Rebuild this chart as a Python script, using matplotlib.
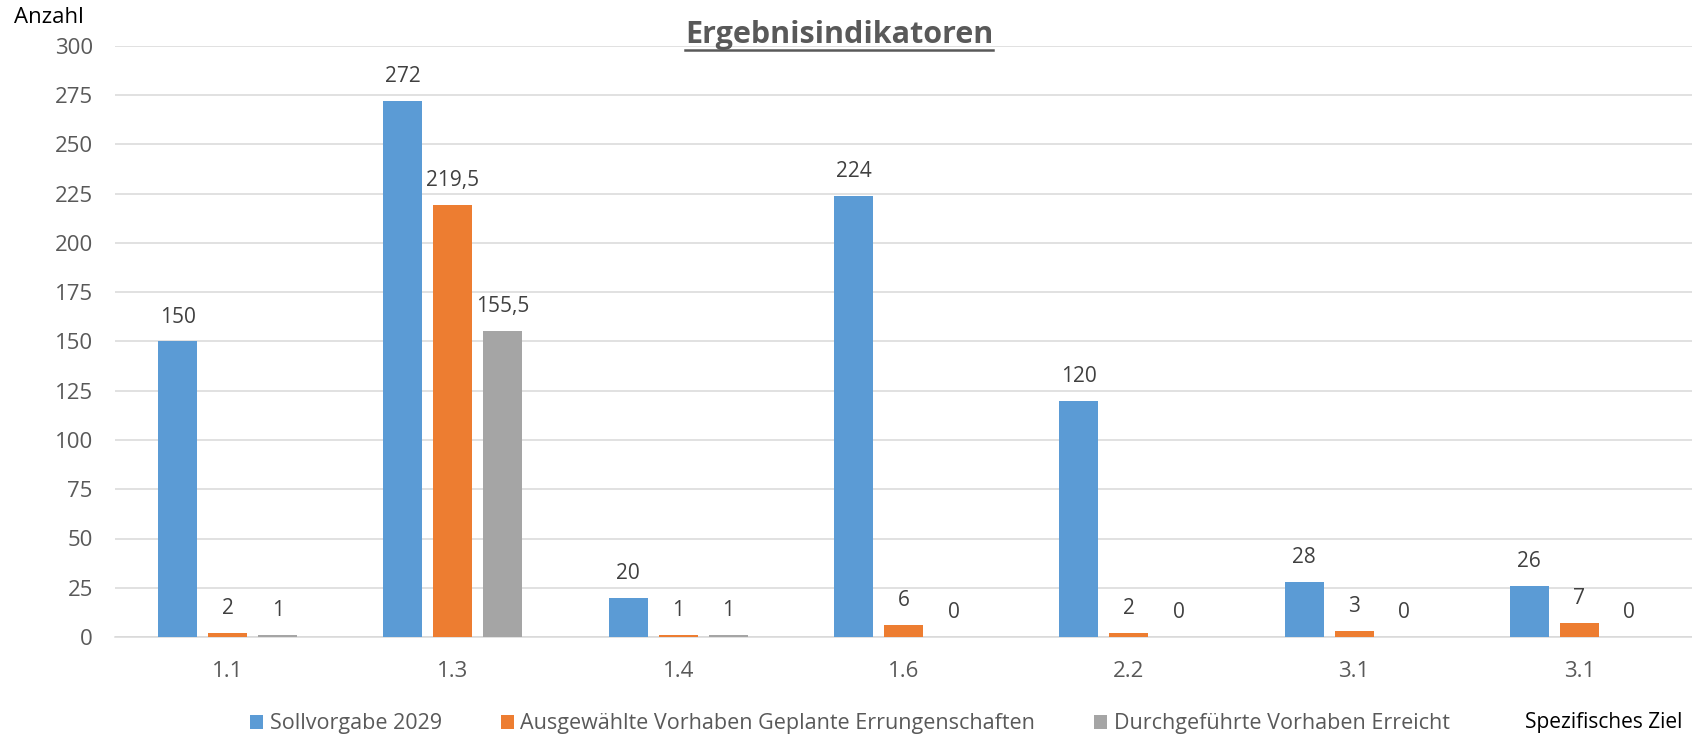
import numpy as np
import matplotlib.pyplot as plt
from matplotlib.lines import Line2D
from matplotlib.patches import Patch

# Data
categories = ["1.1", "1.3", "1.4", "1.6", "2.2", "3.1", "3.1"]
sollvorgabe = [150, 272, 20, 224, 120, 28, 26]
ausgewaehlt = [2, 219.5, 1, 6, 2, 3, 7]
durchgefuehrt = [1, 155.5, 1, 0, 0, 0, 0]
series_names = ["Sollvorgabe 2029",
                "Ausgewählte Vorhaben Geplante Errungenschaften",
                "Durchgeführte Vorhaben Erreicht"]
yticks = list(range(0, 301, 25))

colors = ["#5B9BD5", "#ED7D31", "#A5A5A5"]
grey_text = "#595959"
label_text = "#404040"

plt.rcParams['font.family'] = ['Open Sans', 'DejaVu Sans']

W, H = 1692, 734
fig = plt.figure(figsize=(W / 100, H / 100), dpi=100)
ax = fig.add_axes([115 / W, 1 - 637 / H, (W - 115) / W, (637 - 46) / H])

x = np.arange(len(categories))
width = 0.173
step = 0.222

all_series = [sollvorgabe, ausgewaehlt, durchgefuehrt]
for i, vals in enumerate(all_series):
    bars = ax.bar(x + (i - 1) * step, vals, width, color=colors[i], zorder=3)
    ax.bar_label(bars, labels=[f"{v:g}".replace('.', ',') for v in vals],
                 padding=10, fontsize=15, color=label_text)

ax.set_xlim(-0.5, len(categories) - 0.5)
ax.set_ylim(0, 300)
ax.set_yticks(yticks)
ax.set_xticks(x)
ax.set_xticklabels(categories)
ax.tick_params(axis='y', length=0, pad=16, labelsize=16, labelcolor=grey_text)
ax.tick_params(axis='x', length=0, pad=17, labelsize=16, labelcolor=grey_text)
ax.grid(axis='y', color='#D9D9D9', linewidth=1.1, zorder=0)
for s in ['top', 'right', 'left']:
    ax.spines[s].set_visible(False)
ax.spines['bottom'].set_color('#D9D9D9')
ax.spines['bottom'].set_linewidth(1.1)

# legend
handles = [Patch(facecolor=c) for c in colors]
fig.legend(handles, series_names, loc='center', bbox_to_anchor=(850 / W, 1 - 724 / H),
           ncol=3, frameon=False, fontsize=15.5, labelcolor=grey_text,
           handlelength=0.6, handleheight=0.6, handletextpad=0.3,
           columnspacing=2.75, borderpad=0)

# axis titles
fig.text(14 / W, 1 - 23 / H, "Anzahl", fontsize=16, color='black', va='baseline', ha='left')
fig.text(1682 / W, 1 - 728 / H, "Spezifisches Ziel", fontsize=15, color='black',
         va='baseline', ha='right')

# title with underline
title = fig.text(839 / W, 1 - 43 / H, "Ergebnisindikatoren", fontsize=22,
                 fontweight='bold', color=grey_text, va='baseline', ha='center')
fig.canvas.draw()
bb = title.get_window_extent()
fig.add_artist(Line2D([bb.x0 / W, bb.x1 / W], [1 - 49.5 / H, 1 - 49.5 / H],
                      transform=fig.transFigure, color=grey_text, linewidth=1.8))

fig.savefig('out.png', dpi=100)
